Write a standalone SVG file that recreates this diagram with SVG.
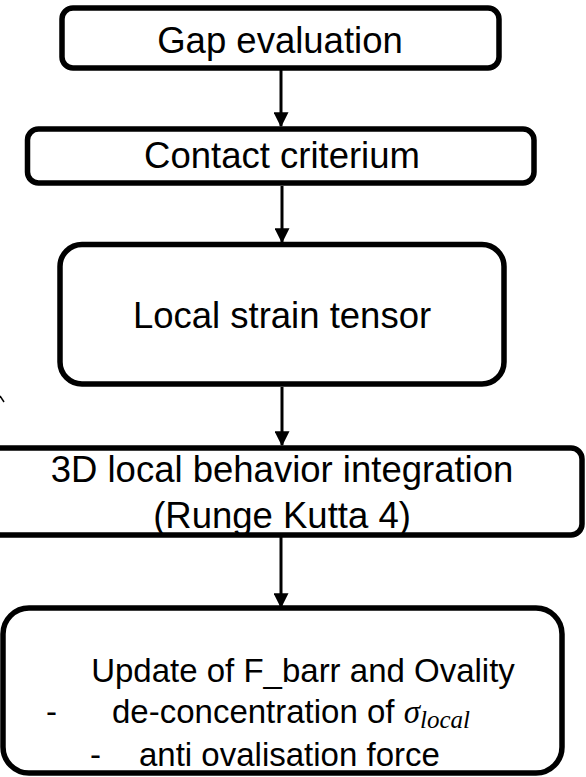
<svg xmlns="http://www.w3.org/2000/svg" width="586" height="777" viewBox="0 0 586 777">
<defs>
<marker id="ah" markerWidth="5" markerHeight="5" refX="4.6" refY="2.5" orient="auto" markerUnits="strokeWidth">
<path d="M0,0 L5,2.5 L0,5 Z" fill="#000"/>
</marker>
<style>
.box{fill:#fff;stroke:#000;stroke-width:5.5}
.t{font-family:"Liberation Sans",Arial,sans-serif;font-size:36.5px;fill:#000;text-anchor:middle}
.b{font-family:"Liberation Sans",Arial,sans-serif;font-size:33px;fill:#000}
.m{font-family:"Liberation Serif","DejaVu Serif",serif;font-style:italic;fill:#000}
.c{stroke:#000;stroke-width:3;fill:none;marker-end:url(#ah)}
</style>
</defs>
<rect width="586" height="777" fill="#fff"/>
<g id="connectors">
<line class="c" x1="281" y1="70" x2="281" y2="126"/>
<line class="c" x1="282" y1="186" x2="282" y2="242"/>
<line class="c" x1="282" y1="387" x2="282" y2="445"/>
<line class="c" x1="281" y1="537" x2="281" y2="607"/>
<line x1="0" y1="396" x2="4" y2="402" stroke="#000" stroke-width="1.5"/>
</g>
<g id="gap">
<rect class="box" x="62" y="8" width="437" height="60" rx="11"/>
<text class="t" x="280" y="53">Gap evaluation</text>
</g>
<g id="contact">
<rect class="box" x="27.5" y="129" width="506.5" height="54" rx="11"/>
<text class="t" x="282" y="168">Contact criterium</text>
</g>
<g id="strain">
<rect class="box" x="60" y="244.5" width="444" height="139.5" rx="22"/>
<text class="t" x="282" y="328">Local strain tensor</text>
</g>
<g id="integration">
<rect class="box" x="-30" y="448" width="612" height="87" rx="11"/>
<text class="t" x="282" y="482">3D local behavior integration</text>
<text class="t" x="282" y="528">(Runge Kutta 4)</text>
</g>
<g id="update">
<rect class="box" x="3" y="608" width="559" height="165" rx="26"/>
<text class="b" x="303" y="682" text-anchor="middle">Update of F_barr and Ovality</text>
<text class="b" x="46" y="723">-</text>
<text class="b" x="112" y="723">de-concentration of <tspan class="m" font-size="33">σ</tspan><tspan class="m" font-size="25" dy="5">local</tspan></text>
<text class="b" x="90" y="766">-</text>
<text class="b" x="139" y="766">anti ovalisation force</text>
</g>
</svg>
